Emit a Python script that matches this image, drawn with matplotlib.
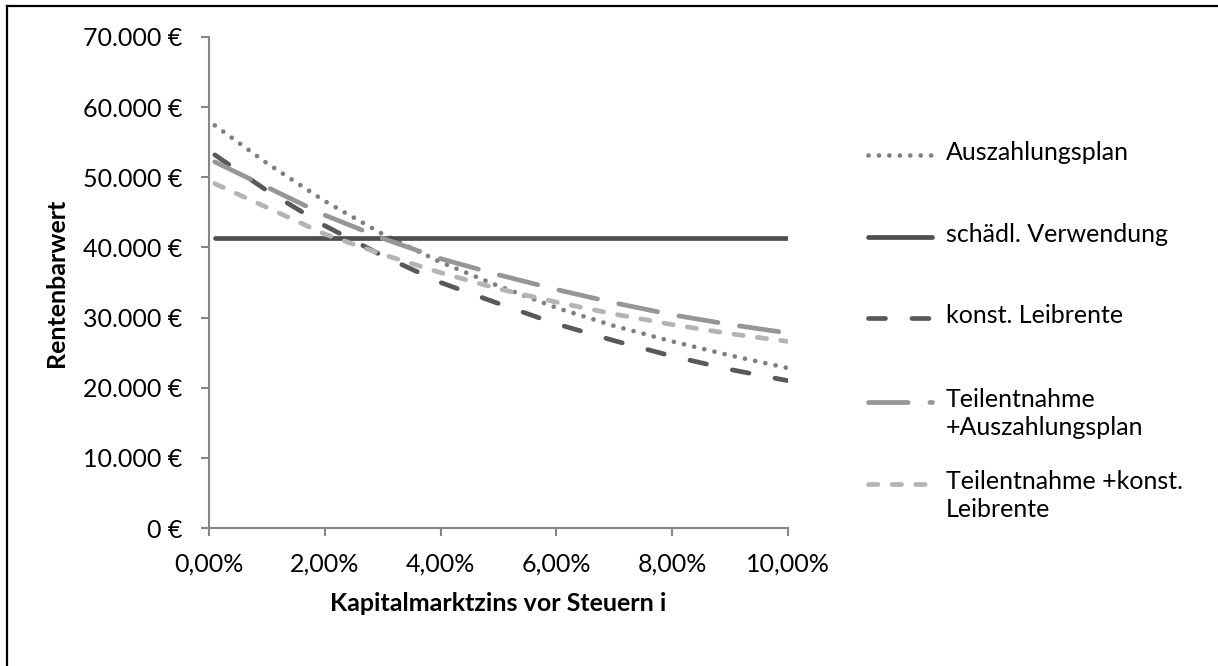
import matplotlib
matplotlib.use("Agg")
import matplotlib.pyplot as plt
from matplotlib.lines import Line2D
from matplotlib.ticker import FuncFormatter, MultipleLocator

# Kapitalmarktzins in Prozent und Rentenbarwerte in Euro
zins = [0.1, 1, 2, 3, 4, 5, 6, 7, 8, 9, 10]
auszahlungsplan = [57400, 52000, 46600, 41900, 37900, 34500, 31400, 28800, 26600, 24600, 22800]
schaedl_verwendung = [41300] * len(zins)
konst_leibrente = [53200, 48100, 43100, 38800, 35000, 32000, 29100, 26700, 24500, 22600, 21000]
teil_auszahlungsplan = [52200, 48600, 44600, 41300, 38400, 36100, 34000, 32100, 30400, 29000, 27800]
teil_leibrente = [49100, 45700, 41900, 39000, 36400, 34100, 32200, 30500, 29000, 27700, 26600]

labels = ["Auszahlungsplan", "schädl. Verwendung", "konst. Leibrente",
          "Teilentnahme\n+Auszahlungsplan", "Teilentnahme +konst.\nLeibrente"]
series = [auszahlungsplan, schaedl_verwendung, konst_leibrente,
          teil_auszahlungsplan, teil_leibrente]
styles = [
    dict(color="#7f7f7f", dashes=(0.01, 2.2)),
    dict(color="#4f4f4f", dashes=()),
    dict(color="#595959", dashes=(3.6, 5.6)),
    dict(color="#969696", dashes=(8.4, 4.6)),
    dict(color="#b4b4b4", dashes=(2.0, 3.0)),
]
LW = 3.4
FS = 18

plt.rcParams["font.family"] = ["Lato", "DejaVu Sans"]
W, H = 1218, 666
fig = plt.figure(figsize=(W / 100, H / 100), dpi=100)
px = lambda x, y: (x / W, 1 - y / H)

ax = fig.add_axes([209 / W, 1 - 528 / H, 579 / W, 491 / H])
for vals, st in zip(series, styles):
    ln, = ax.plot(zins, vals, lw=LW, color=st["color"], solid_capstyle="round",
                  dash_capstyle="round")
    if st["dashes"]:
        ln.set_dashes(st["dashes"])

ax.set_xlim(0, 10)
ax.set_ylim(0, 70000)
ax.xaxis.set_major_locator(MultipleLocator(2))
ax.yaxis.set_major_locator(MultipleLocator(10000))
ax.xaxis.set_major_formatter(FuncFormatter(lambda v, p: f"{v:.2f}%".replace(".", ",")))
ax.yaxis.set_major_formatter(FuncFormatter(lambda v, p: f"{int(v):,}".replace(",", ".") + " €"))
for s in ["top", "right"]:
    ax.spines[s].set_visible(False)
for s in ["left", "bottom"]:
    ax.spines[s].set_color("#868686")
    ax.spines[s].set_linewidth(1.5)
ax.tick_params(axis="both", direction="out", length=6, width=1.5, color="#868686",
               labelsize=FS, labelcolor="#000000")
ax.tick_params(axis="y", pad=13)
ax.tick_params(axis="x", pad=12)
ax.set_ylabel("Rentenbarwert", fontsize=FS, fontweight="bold")
ax.set_xlabel("Kapitalmarktzins vor Steuern i", fontsize=FS, fontweight="bold")
ax.yaxis.set_label_coords((68 - 209) / 579, 0.5)
ax.xaxis.set_label_coords(0.5, (528 - 592) / 491)

# Legende rechts neben dem Diagramm
leg_y = [155, 237, 318, 402, 484]
for lab, st, y in zip(labels, styles, leg_y):
    h = Line2D([868 / W, 932 / W], [1 - y / H] * 2, lw=LW, color=st["color"],
               solid_capstyle="round", dash_capstyle="round", transform=fig.transFigure)
    if st["dashes"]:
        h.set_dashes(st["dashes"])
    fig.add_artist(h)
    fig.text(*px(946, y - 14), lab, fontsize=FS, va="top", ha="left", linespacing=1.25)

# Rahmen
fig.add_artist(Line2D([7 / W, 7 / W], [0, 1 - 6 / H], lw=1.6, color="black"))
fig.add_artist(Line2D([7 / W, 1], [1 - 6 / H] * 2, lw=1.6, color="black"))

fig.savefig("out.png", dpi=100)
